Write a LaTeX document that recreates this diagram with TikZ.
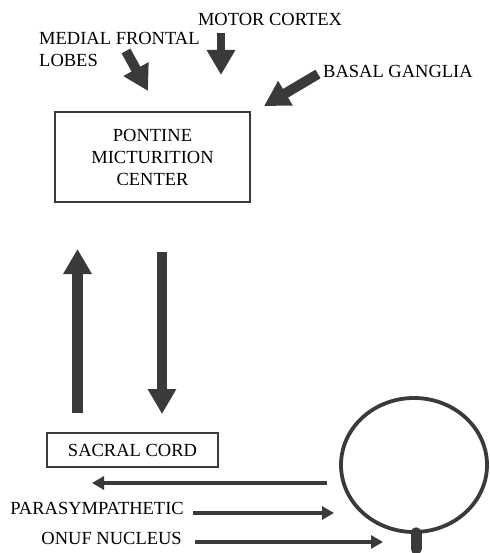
\documentclass[tikz,border=0pt]{standalone}
\usepackage{fontspec}
\setmainfont{Liberation Serif}
\usetikzlibrary{arrows.meta,shapes.geometric}
\definecolor{ink}{HTML}{3A3A3A}
\tikzset{
  lbl/.style={inner sep=0pt, font=\fontsize{18.5}{22}\selectfont, text=black},
  boxed/.style={draw=ink, line width=2.6pt, inner sep=0pt, font=\fontsize{18.5}{22}\selectfont, align=center},
  fatarrow/.style={draw=ink, line width=#1, -{Triangle[width=27pt,length=25pt]}},
  fatarrow/.default=9pt,
  thinarrow/.style={draw=ink, line width=3.8pt, -{Triangle[width=13pt,length=12pt]}}
}
\begin{document}
\begin{tikzpicture}[x=1pt,y=-1pt]
\useasboundingbox (0,0) rectangle (489,553);
% labels
\node[lbl] (motor) at (270,19) {MOTOR CORTEX};
\node[lbl, anchor=west, align=left] (medial) at (39,49) {MEDIAL FRONTAL\\LOBES};
\node[lbl, anchor=west] (basal) at (323,71) {BASAL GANGLIA};
\node[boxed, minimum width=195pt, minimum height=90pt] (pmc) at (152.5,157) {PONTINE\\MICTURITION\\CENTER};
\node[boxed, minimum width=171pt, minimum height=34pt] (sacral) at (132.5,450) {SACRAL CORD};
\node[lbl, anchor=east] (para) at (184,508) {PARASYMPATHETIC};
\node[lbl, anchor=east] (onuf) at (182,538) {ONUF NUCLEUS};
% bladder
\node[draw=ink, ellipse, line width=3.8pt, minimum width=146pt, minimum height=134pt, inner sep=0pt] (bladder) at (414,465) {};
\draw[ink, line width=11pt, line cap=round] (bladder.south) ++(2,-1) coordinate (stemtop) -- ++(0,16) coordinate (stembot);
% arrow end points
\coordinate (mcA) at (221,33);  \coordinate (mcB) at (221,75);
\coordinate (mfA) at (126,51);  \coordinate (mfB) at (148,91);
\coordinate (bgA) at (318,74);  \coordinate (bgB) at (264,106);
\coordinate (upA) at (77.5,413); \coordinate (upB) at (77.5,249);
\coordinate (dnA) at (162,252);  \coordinate (dnB) at (162,414);
\coordinate (lfA) at (327,483);  \coordinate (lfB) at (92,483);
\coordinate (paA) at (193,513);  \coordinate (paB) at (334,513);
\coordinate (onA) at (195,542);  \coordinate (onB) at (383,542);
% fat arrows
\draw[fatarrow=8.5pt] (mcA) -- (mcB);
\draw[fatarrow=10pt] (mfA) -- (mfB);
\draw[fatarrow=10pt] (bgA) -- (bgB);
\draw[fatarrow=10.5pt] (upA) -- (upB);
\draw[fatarrow=10pt] (dnA) -- (dnB);
% thin arrows
\draw[thinarrow] (lfA) -- (lfB);
\draw[thinarrow] (paA) -- (paB);
\draw[thinarrow] (onA) -- (onB);
\end{tikzpicture}
\end{document}
